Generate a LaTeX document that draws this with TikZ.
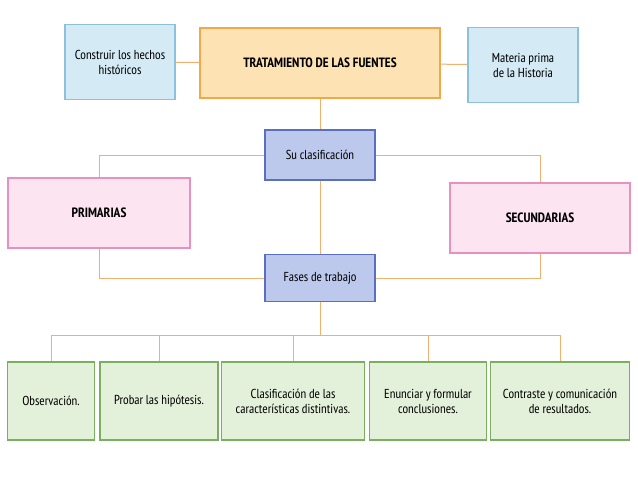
\documentclass[tikz,border=0pt]{standalone}
\usepackage{fontspec}
\setmainfont{PT Sans Narrow}
\definecolor{ln}{HTML}{F0B070}
\definecolor{lb}{HTML}{D4EAF4}\definecolor{lbd}{HTML}{8CC0DC}
\definecolor{tf}{HTML}{FDE2B4}\definecolor{td}{HTML}{F0A848}
\definecolor{cf}{HTML}{BCC9EC}\definecolor{cd}{HTML}{5A6FC0}
\definecolor{pf}{HTML}{FCE4F0}\definecolor{pd}{HTML}{E890C0}
\definecolor{gf}{HTML}{E4F1DA}\definecolor{gd}{HTML}{78B060}
\begin{document}
\begin{tikzpicture}[x=1pt,y=-1pt,
 bx/.style={draw,line width=1.2pt,inner sep=0pt,align=center,font=\fontsize{13}{15}\selectfont},
 lbox/.style={bx,fill=lb,draw=lbd},
 gbox/.style={bx,fill=gf,draw=gd,minimum height=78pt},
 con/.style={draw=ln,line width=1pt}]
\useasboundingbox[fill=white] (0,0) rectangle (638,479);
\node[lbox,minimum width=110pt,minimum height=75pt] (a) at (120,62) {Construir los hechos\\históricos};
\node[bx,fill=tf,draw=td,minimum width=240pt,minimum height=70pt,font=\fontsize{13.5}{15}\selectfont\bfseries] (t) at (320,63) {TRATAMIENTO DE LAS FUENTES};
\node[lbox,minimum width=110pt,minimum height=75pt] (m) at (523,65) {Materia prima\\de la Historia};
\node[bx,fill=cf,draw=cd,minimum width=110pt,minimum height=50pt] (c) at (320,155) {Su clasificación};
\node[bx,fill=pf,draw=pd,minimum width=182pt,minimum height=70pt,font=\fontsize{13.5}{15}\selectfont\bfseries] (p) at (99,213) {PRIMARIAS};
\node[bx,fill=pf,draw=pd,minimum width=180pt,minimum height=70pt,font=\fontsize{13.5}{15}\selectfont\bfseries] (s) at (540,218) {SECUNDARIAS};
\node[bx,fill=cf,draw=cd,minimum width=110pt,minimum height=47pt] (f) at (320,278) {Fases de trabajo};
\node[gbox,minimum width=87pt] (g1) at (51,401) {Observación.};
\node[gbox,minimum width=118pt] (g2) at (159,401) {Probar las hipótesis.};
\node[gbox,minimum width=143pt] (g3) at (293,401) {Clasificación de las\\características distintivas.};
\node[gbox,minimum width=117pt] (g4) at (428,401) {Enunciar y formular\\conclusiones.};
\node[gbox,minimum width=139pt] (g5) at (560,401) {Contraste y comunicación\\de resultados.};
\draw[con] (a) -- (t); \draw[con] (t) -- (m);
\draw[con] (t) -- (c); \draw[con] (c) -- (f);
\draw[con] (c.west) -| (p.north); \draw[con] (c.east) -| (s.north);
\draw[con] (p.south) |- (f.west); \draw[con] (s.south) |- (f.east);
\coordinate (bus) at (320,335);
\draw[con] (f) -- (bus);
\draw[con] (bus) -| (g1.north); \draw[con] (bus) -| (g2.north);
\draw[con] (bus) -| (g3.north); \draw[con] (bus) -| (g4.north);
\draw[con] (bus) -| (g5.north);
\end{tikzpicture}
\end{document}
